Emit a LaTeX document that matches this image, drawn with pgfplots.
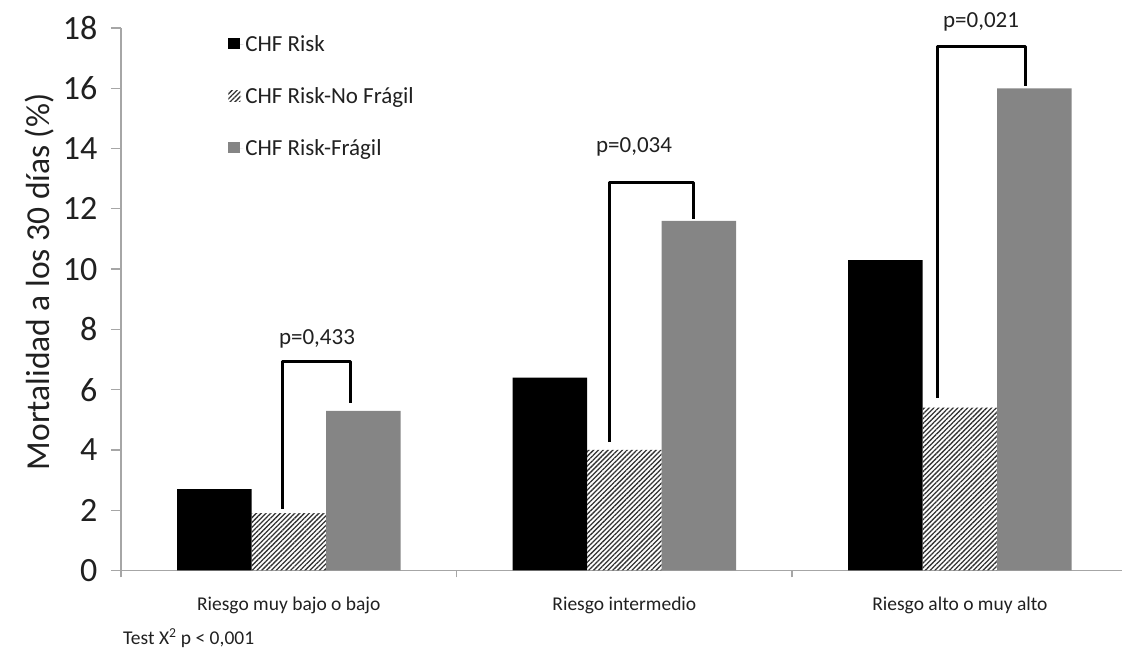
\documentclass[border=0pt]{standalone}
\usepackage{fontspec}
\setmainfont{Carlito}
\usepackage{pgfplots}
\pgfplotsset{compat=1.18}
\usetikzlibrary{patterns.meta}

\definecolor{barGray}{HTML}{858585}
\definecolor{axisGray}{HTML}{A6A6A6}
\definecolor{txt}{HTML}{202020}

\pgfplotsset{
  sq legend/.style={legend image code/.code={%
      \path[##1] (0pt,-5pt) rectangle (12pt,6pt);
      \path (0pt,0pt) -- (15pt,0pt);}},
  bracket/.style={sharp plot, mark=none, black, line width=3pt, line join=round, forget plot},
}

\begin{document}
\begin{tikzpicture}[every node/.append style={text=txt}]
\begin{axis}[
  name=ax,
  scale only axis, width=1001pt, height=542.5pt,
  xmin=-0.5, xmax=2.483, ymin=0, ymax=18,
  ybar, bar width=74.5pt,
  axis lines*=left,
  axis line style={axisGray, line width=1.3pt},
  xtick={0,1,2},
  xticklabels={Riesgo muy bajo o bajo, Riesgo intermedio, Riesgo alto o muy alto},
  minor xtick={-0.5,0.5,1.5},
  ytick={0,2,...,18},
  tick align=outside,
  major tick length=10pt, minor tick length=7pt,
  tick style={axisGray, line width=1.3pt},
  major x tick style={draw=none},
  x tick label style={font=\fontsize{19.5}{20}\selectfont, anchor=base, yshift=-30.5pt},
  y tick label style={font=\fontsize{34}{34}\selectfont, xshift=-10pt},
  /pgf/number format/assume math mode=true,
  ylabel={Mortalidad a los 30 días (\%)},
  ylabel style={font=\fontsize{33.5}{34}\selectfont,
    at={(rel axis cs:-0.0719,0.532)}, anchor=base},
  clip=false,
  legend style={draw=none, fill=none, at={(0.107,0.9905)}, anchor=north west,
    font=\fontsize{23}{23}\selectfont, row sep=30.5pt, inner sep=0pt},
  legend cell align=left,
]
% CHF Risk
\addplot[draw=none, fill=black, bar shift=-74.5pt, sq legend]
  coordinates {(0,2.7) (1,6.4) (2,10.3)};
\addlegendentry{CHF Risk}
% CHF Risk-No Frágil
\addplot[draw=none, pattern={Lines[angle=45,distance=3.4pt,line width=1.3pt]},
  pattern color=black!80, bar shift=0pt, sq legend]
  coordinates {(0,1.9) (1,4.0) (2,5.4)};
\addlegendentry{CHF Risk-No Frágil}
% CHF Risk-Frágil
\addplot[draw=none, fill=barGray, bar shift=74.5pt, sq legend]
  coordinates {(0,5.3) (1,11.6) (2,16.0)};
\addlegendentry{CHF Risk-Frágil}

% significance brackets
\addplot[bracket] coordinates {(-0.018,2.04) (-0.018,6.93) (0.183,6.93) (0.183,5.56)};
\addplot[bracket] coordinates {(0.957,4.26) (0.957,12.87) (1.207,12.87) (1.207,11.66)};
\addplot[bracket] coordinates {(1.934,5.72) (1.934,17.38) (2.196,17.38) (2.196,16.07)};

\node[anchor=base, font=\fontsize{23}{23}\selectfont] at (axis cs:0.084,7.49) {p=0,433};
\node[anchor=base, font=\fontsize{23}{23}\selectfont] at (axis cs:1.029,13.86) {p=0,034};
\node[anchor=base, font=\fontsize{23}{23}\selectfont] at (axis cs:2.063,18.0) {p=0,021};

\node[anchor=base west, inner sep=0pt, font=\fontsize{19.5}{20}\selectfont]
  at (axis cs:-0.494,-2.47) {Test X\textsuperscript{2} p < 0,001};
\end{axis}
\pgfresetboundingbox
\useasboundingbox ([shift={(-121pt,-88.5pt)}]ax.south west) rectangle ([yshift=28pt]ax.north east);
\end{tikzpicture}
\end{document}
